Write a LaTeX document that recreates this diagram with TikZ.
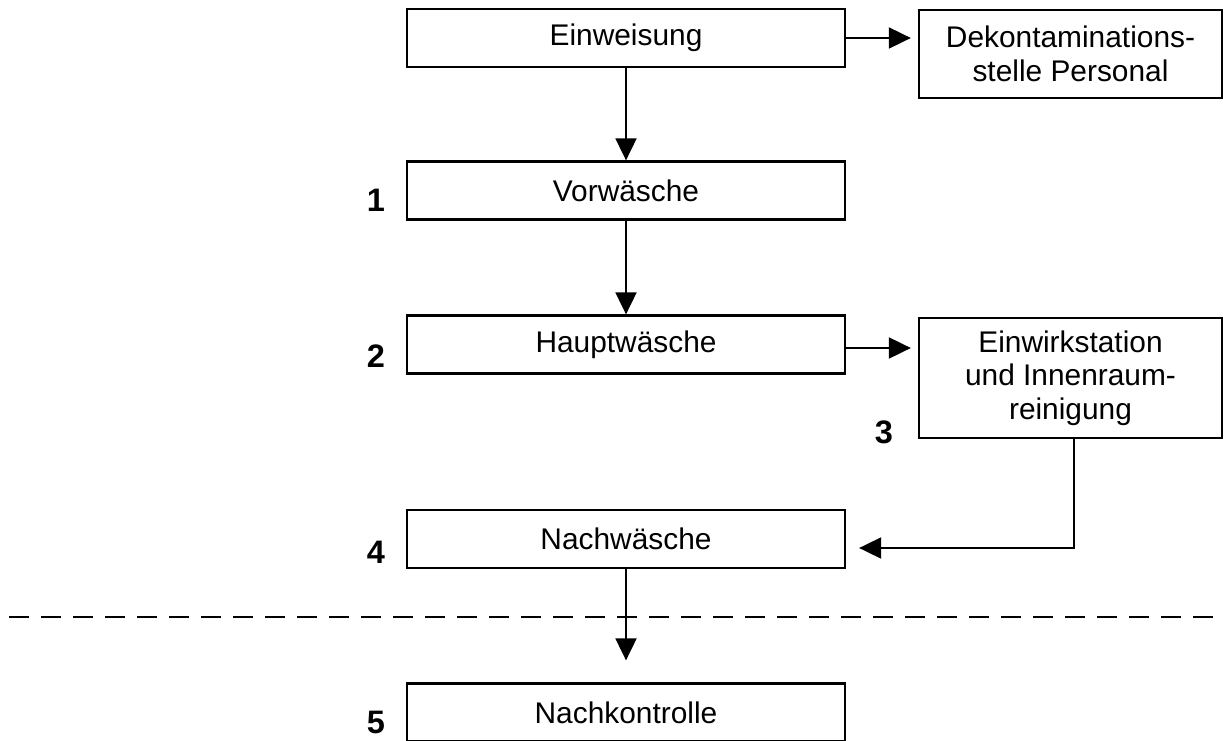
\documentclass[tikz,border=0pt]{standalone}
\usepackage{fontspec}
\setmainfont{Liberation Sans}
\usetikzlibrary{arrows.meta, positioning, calc}

\begin{document}
\begin{tikzpicture}[
        font=\fontsize{17}{19}\selectfont,
        block/.style={rectangle, draw=black, line width=1.3pt, minimum height=1.16cm, minimum width=8.76cm, align=center, inner sep=0pt},
        side/.style={block, minimum width=6.06cm},
        arrow/.style={line width=1.1pt, -{Triangle[length=0.44cm, width=0.42cm]}},
        num/.style={font=\fontsize{18.5}{20}\selectfont\bfseries}
    ]
        \useasboundingbox (0,0) rectangle (24.48,14.8);

        % --- Main chain ---
        \node[block] (ein)   at (12.52, 14.04) {Einweisung};
        \node[block] (vor)   at (12.52, 10.99) {Vorwäsche};
        \node[block] (haupt) at (12.52, 7.91) {Hauptwäsche};
        \node[block] (nach)  at (12.52, 4.02) {Nachwäsche};
        \node[block] (kontr) at (12.52, 0.55) {Nachkontrolle};

        % --- Side stations ---
        \node[side, minimum height=1.76cm] (dek)  at (21.41, 13.72) {Dekontaminations-\\stelle Personal};
        \node[side, minimum height=2.4cm]  (einw) at (21.41, 7.24) {Einwirkstation\\und Innenraum-\\reinigung};

        % --- Step numbers ---
        \node[num] (n1) at (7.52, 10.8) {1};
        \node[num] (n2) at (7.52, 7.68) {2};
        \node[num] (n3) at (17.68, 6.16) {3};
        \node[num] (n4) at (7.52, 3.76) {4};
        \node[num] (n5) at (7.52, 0.36) {5};

        % --- Connectors ---
        \draw[arrow, shorten >=0.14cm] (ein.east) -- (ein.east -| dek.west);
        \draw[arrow] (ein) -- (vor);
        \draw[arrow] (vor) -- (haupt);
        \draw[arrow, shorten >=0.14cm] ([yshift=-0.07cm]haupt.east) -- ([yshift=-0.07cm]haupt.east -| einw.west);
        \draw[arrow] ([xshift=0.07cm]einw.south) |- ([xshift=0.26cm, yshift=-0.18cm]nach.east);
        \draw[arrow, shorten >=0.44cm] (nach) -- (kontr);

        % --- Separator ---
        \draw[line width=1.1pt, dash pattern=on 0.4cm off 0.24cm] (0.18, 2.46) -- (24.48, 2.46);
    \end{tikzpicture}
\end{document}
